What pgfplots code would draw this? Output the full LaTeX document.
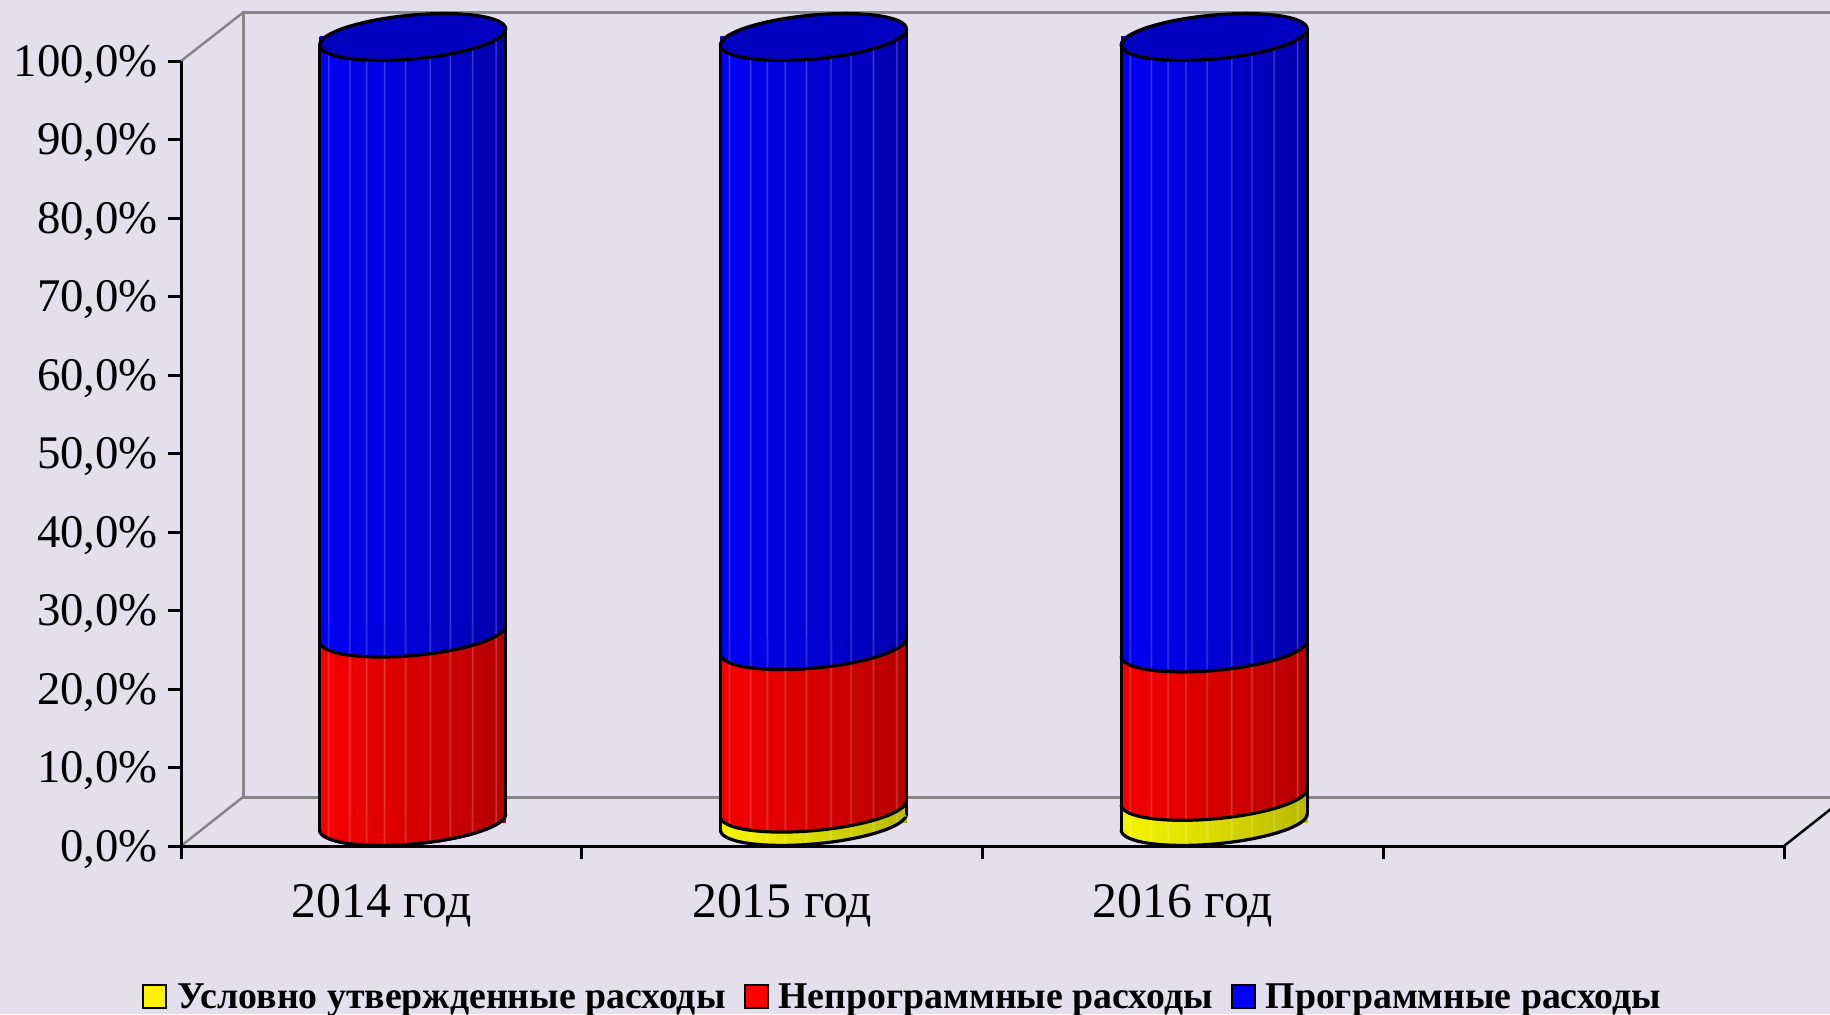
\documentclass[border=0pt]{standalone}
\usepackage{fontspec}
\setmainfont{Liberation Serif}
\usepackage{pgfplots}
\usepackage{pgfplotstable}
\pgfplotsset{compat=1.18}
\definecolor{bgc}{HTML}{E3DFEB}
\definecolor{wallc}{HTML}{868686}
\pgfplotstableread{
x yellow red blue
0.5 0.0 24.0 76.0
1.5 1.7 20.7 77.6
2.5 3.2 18.9 77.9
}\shares
\makeatletter
% horizontal shading with fine light stripes, as on the original 3-D columns
\newcommand\buildshade[5]{% name r g b darkening
  \gdef\sp@c{rgb(0bp)=(#2,#3,#4)}%
  \def\addstop##1##2{%
    \pgfmathsetmacro\ff{1-#5*(max(0,(##1-12)/88))^1.25}%
    \pgfmathsetmacro\rr{#2*\ff*(1-##2)+##2}%
    \pgfmathsetmacro\gg{#3*\ff*(1-##2)+##2}%
    \pgfmathsetmacro\bb{#4*\ff*(1-##2)+##2}%
    \xdef\sp@c{\sp@c; rgb(##1bp)=(\rr,\gg,\bb)}}%
  \foreach \p in {5,8.6,12.7,17,21.8,27.3,33,37.5,42.3,48,54.6,60,66,72.3,77.6,82.5,86.6,90.5,96.5}{%
    \pgfmathsetmacro\pa{\p-0.35}\pgfmathsetmacro\pb{\p+0.35}%
    \addstop{\pa}{0}\addstop{\p}{0.25}\addstop{\pb}{0}}%
  \addstop{100}{0}%
  \edef\next{\noexpand\pgfdeclarehorizontalshading{#1}{100bp}{\sp@c}}\next}
\makeatother
\buildshade{cylblue}{0}{0}{1}{0.5}
\buildshade{cylred}{1}{0}{0}{0.45}
\buildshade{cylyellow}{1}{1}{0}{0.42}
\newcommand\bulgepath{%
  \pgfpathmoveto{\pgfqpoint{-46.5pt}{-4pt}}%
  \pgfpathcurveto{\pgfqpoint{-46.5pt}{-10.08pt}}{\pgfqpoint{-25.68pt}{-13.21pt}}{\pgfqpoint{0pt}{-11pt}}%
  \pgfpathcurveto{\pgfqpoint{25.68pt}{-8.79pt}}{\pgfqpoint{46.5pt}{-2.08pt}}{\pgfqpoint{46.5pt}{4pt}}}
\newcommand\defbulge[2]{%
  \pgfdeclareplotmark{#1}{%
    \begin{pgfscope}\bulgepath
      \pgfpathlineto{\pgfqpoint{-46.5pt}{4pt}}\pgfpathclose
      \pgfshadepath{#2}{0}\pgfusepath{discard}\end{pgfscope}%
    \pgfsetlinewidth{1.6pt}\pgfsetstrokecolor{black}\pgfsetroundcap%
    \bulgepath\pgfusepath{stroke}}}
\newcommand\defcap[2]{%
  \pgfdeclareplotmark{#1}{%
    \begin{pgfscope}%
      \pgfpathmoveto{\pgfqpoint{-46.5pt}{-4pt}}%
      \pgfpathlineto{\pgfqpoint{46.5pt}{4pt}}%
      \pgfpathlineto{\pgfqpoint{46.5pt}{-4pt}}\pgfpathclose
      \pgfshadepath{#2}{0}\pgfusepath{discard}\end{pgfscope}}}
\defbulge{bulgeyellow}{cylyellow}
\defbulge{bulgered}{cylred}
\defbulge{bulgeblue}{cylblue}
\defcap{capyellow}{cylyellow}
\defcap{capred}{cylred}
\pgfdeclareplotmark{cyltop}{%
  \pgfsetlinewidth{1.6pt}\pgfsetstrokecolor{black}\pgfsetroundcap%
  \pgfpathmoveto{\pgfqpoint{-46.5pt}{-4pt}}\pgfpathlineto{\pgfqpoint{-46.5pt}{-396.5pt}}%
  \pgfpathmoveto{\pgfqpoint{46.5pt}{4pt}}\pgfpathlineto{\pgfqpoint{46.5pt}{-388.5pt}}%
  \pgfusepath{stroke}%
  \definecolor{topc}{HTML}{0000BE}\pgfsetfillcolor{topc}%
  \pgfpathellipse{\pgfqpoint{0pt}{0pt}}{\pgfqpoint{46.5pt}{4pt}}{\pgfqpoint{0pt}{11pt}}%
  \pgfusepath{fill,stroke}}
\newcommand\barset[1]{%
\addplot[ybar,bar width=93pt,bar shift=0pt,draw=none,shading=cylblue,shade,restrict x to domain=#1]
  table[x=x,y expr=\thisrow{yellow}+\thisrow{red}+\thisrow{blue}] {\shares};
\addplot[ybar,bar width=93pt,bar shift=0pt,draw=none,shading=cylred,shade,restrict x to domain=#1]
  table[x=x,y expr=\thisrow{yellow}+\thisrow{red}] {\shares};
\addplot[ybar,bar width=93pt,bar shift=0pt,draw=none,shading=cylyellow,shade,restrict x to domain=#1]
  table[x=x,y=yellow] {\shares};
}
\begin{document}
\begin{tikzpicture}[x=1pt,y=1pt]
\fill[bgc] (0,0) rectangle (915,507);
\path[use as bounding box] (0,0) rectangle (915,507);
% back walls
\draw[wallc,line width=1.5pt,line join=miter] (121.5,108.5) -- (121.5,500.7) -- (915,500.7);
\draw[wallc,line width=1.25pt] (90.5,476.5) -- (121.5,500.7);
\draw[wallc,line width=1.5pt] (121.5,108.5) -- (915,108.5);
\draw[wallc,line width=1.25pt] (90.5,84) -- (121.5,108.5);
\draw[black,line width=1.25pt] (892,84) -- (923,108.5);
\begin{axis}[
  at={(90.5pt,84pt)},anchor=origin,
  scale only axis,width=801.5pt,height=392.5pt,
  xmin=0,xmax=4,ymin=0,ymax=100,clip=false,
  axis lines=left,axis line style={-,black,line width=1.5pt},
  tick align=outside,tick pos=left,
  major tick length=6.5pt,
  tick style={black,line width=1.5pt},
  xtick={0,1,2,3,4},xticklabels={},
  extra x ticks={0.5,1.5,2.5},
  extra x tick labels={2014 год,2015 год,2016 год},
  extra x tick style={major tick length=0pt,
    tick label style={yshift=-15.5pt,font=\fontsize{24.9pt}{26pt}\selectfont}},
  ytick={0,10,...,100},
  yticklabel={\pgfmathprintnumber{\tick}\%},
  /pgf/number format/.cd,assume math mode=true,fixed,fixed zerofill,precision=1,use comma,1000 sep={},
  /pgfplots/.cd,
  tick label style={font=\fontsize{23.4pt}{25pt}\selectfont,text=black},
  yticklabel style={xshift=-1.5pt,yshift=-1.75pt},
  legend columns=3,
  legend cell align=left,
  legend style={draw=none,fill=none,at={(-0.0243,-0.2103)},anchor=south west,
    inner sep=0pt,outer sep=0pt,
    font=\fontsize{18.9pt}{20pt}\selectfont\bfseries,
    nodes={inner sep=0pt,outer sep=0pt},
    /tikz/column 1/.style={column sep=5pt},
    /tikz/column 2/.style={column sep=9pt},
    /tikz/column 3/.style={column sep=5pt},
    /tikz/column 4/.style={column sep=9pt},
    /tikz/column 5/.style={column sep=5pt}},
]
\addlegendimage{legend image code/.code={\draw[black,line width=1pt,fill=yellow] (0.5pt,-5.5pt) rectangle (12pt,6pt);}}
\addlegendentry{Условно утвержденные расходы}
\addlegendimage{legend image code/.code={\draw[black,line width=1pt,fill=red] (0.5pt,-5.5pt) rectangle (12pt,6pt);}}
\addlegendentry{Непрограммные расходы}
\addlegendimage{legend image code/.code={\draw[black,line width=1pt,fill=blue] (0.5pt,-5.5pt) rectangle (12pt,6pt);}}
\addlegendentry{Программные расходы}
\end{axis}
\begin{axis}[
  at={(106.15pt,96pt)},anchor=origin,
  scale only axis,width=801.5pt,height=392.5pt,
  xmin=0,xmax=4,ymin=0,ymax=100,clip=false,hide axis,
]
\barset{0:1}
\barset{1:2}
\barset{2:3}
\addplot[only marks,mark=bulgeyellow] table[x=x,y expr=0*\thisrow{yellow}] {\shares};
\addplot[only marks,mark=capyellow,restrict y to domain=0.01:100] table[x=x,y=yellow] {\shares};
\addplot[only marks,mark=bulgered] table[x=x,y=yellow] {\shares};
\addplot[only marks,mark=capred] table[x=x,y expr=\thisrow{yellow}+\thisrow{red}] {\shares};
\addplot[only marks,mark=bulgeblue] table[x=x,y expr=\thisrow{yellow}+\thisrow{red}] {\shares};
\addplot[only marks,mark=cyltop] table[x=x,y expr=\thisrow{yellow}+\thisrow{red}+\thisrow{blue}] {\shares};
\end{axis}
\end{tikzpicture}
\end{document}
